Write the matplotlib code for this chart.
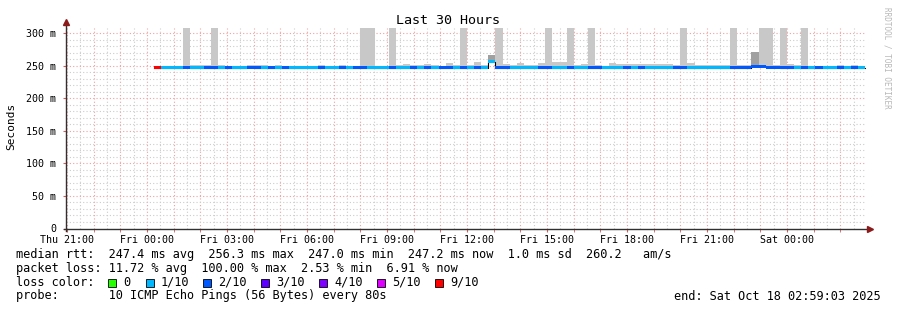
import matplotlib
matplotlib.use('Agg')
import matplotlib.pyplot as plt
import numpy as np
from matplotlib.patches import Rectangle
from matplotlib.lines import Line2D

# ---------------- data ----------------
title = 'Last 30 Hours'
ylabel = 'Seconds'
first_bin_hour = 3 + 16 / 60.0      # hours after Thu 21:00 (Fri 00:16)
bin_minutes = 16

loss_code = [9, 1, 1, 1, 2, 1, 1, 2, 2, 1,
             2, 1, 1, 2, 2, 1, 2, 1, 2, 1,
             1, 1, 1, 2, 1, 1, 2, 1, 2, 2,
             1, 1, 1, 2, 1, 1, 2, 1, 2, 1,
             2, 2, 1, 2, 1, 2, 1, 1, 2, 2,
             1, 1, 1, 1, 2, 2, 1, 1, 2, 1,
             1, 2, 2, 1, 1, 1, 2, 1, 2, 1,
             1, 1, 1, 2, 2, 1, 1, 1, 1, 1,
             1, 2, 2, 2, 2, 2, 2, 2, 2, 2,
             1, 2, 1, 2, 1, 1, 2, 1, 2, 1]

median_ms = [247.0, 247.3, 247.3, 247.3, 247.4, 247.3, 247.3, 247.2, 247.2, 247.3,
             247.3, 247.3, 247.3, 247.4, 246.8, 247.3, 247.3, 247.3, 247.3, 247.3,
             247.3, 247.3, 247.3, 247.3, 247.3, 247.3, 247.3, 247.3, 247.3, 247.3,
             247.3, 247.3, 247.3, 247.3, 247.3, 247.3, 247.3, 247.3, 247.3, 247.3,
             247.3, 247.3, 247.3, 247.3, 247.3, 247.3, 247.3, 256.3, 247.3, 247.3,
             247.3, 247.3, 247.3, 247.3, 247.3, 247.3, 247.3, 247.3, 247.3, 247.3,
             247.3, 247.3, 247.3, 247.3, 247.3, 247.3, 247.3, 247.3, 247.3, 247.3,
             247.3, 247.3, 247.3, 247.3, 247.3, 247.3, 247.3, 247.3, 247.3, 247.3,
             247.3, 247.0, 247.0, 247.0, 249.0, 249.0, 247.4, 247.4, 247.3, 247.3,
             247.3, 247.3, 247.3, 247.3, 247.3, 247.3, 247.3, 247.3, 247.3, 247.2]

smoke_hi_ms = [247.5, 249.5, 249.8, 249.5, 400, 251, 251, 251, 400, 251,
               250, 250, 249.8, 251, 250.5, 251, 250, 251, 249.5, 250,
               249.8, 250, 250, 250.5, 250, 250, 251, 250, 250, 400,
               400, 250, 250, 400, 251, 253, 251, 250.5, 253, 251,
               250, 255, 251, 400, 250.5, 256, 251, 267, 400, 253,
               251, 255, 251, 250.5, 255, 400, 256, 256, 400, 251,
               253, 400, 250.5, 250, 255, 253, 252, 253, 253, 253,
               253, 252, 253, 250.5, 400, 255, 251, 251, 251, 251,
               251, 400, 251, 251, 271, 400, 400, 251, 400, 253,
               250.5, 400, 250, 250, 250, 250, 250.5, 250, 250.5, 250]

smoke_dark_ms = [0] * 100
smoke_dark_ms[47] = 266.5
smoke_dark_ms[84] = 271

loss_levels = [0, 1, 2, 3, 4, 5, 9]
loss_labels = ['0', '1/10', '2/10', '3/10', '4/10', '5/10', '9/10']
loss_colors = ['#26ff00', '#00b8ff', '#0059ff', '#5e00ff', '#7e00ff', '#dd00ff', '#ff0000']

xtick_hours = [0, 3, 6, 9, 12, 15, 18, 21, 24, 27]
xtick_labels = ['Thu 21:00', 'Fri 00:00', 'Fri 03:00', 'Fri 06:00', 'Fri 09:00',
                'Fri 12:00', 'Fri 15:00', 'Fri 18:00', 'Fri 21:00', 'Sat 00:00']
ytick_vals = [0, 50, 100, 150, 200, 250, 300]
ytick_labels = ['0', '50 m', '100 m', '150 m', '200 m', '250 m', '300 m']

legend_rtt = 'median rtt:  247.4 ms avg  256.3 ms max  247.0 ms min  247.2 ms now  1.0 ms sd  260.2   am/s'
legend_loss = 'packet loss: 11.72 % avg  100.00 % max  2.53 % min  6.91 % now'
legend_probe = 'probe:       10 ICMP Echo Pings (56 Bytes) every 80s'
legend_end = 'end: Sat Oct 18 02:59:03 2025'

# ---------------- figure ----------------
W, H = 897, 310
MONO = 'DejaVu Sans Mono'
LFS = 8.52
fig = plt.figure(figsize=(W / 100, H / 100), dpi=100)
fig.patch.set_facecolor('white')

def fx(px):
    return px / W

def fy(py):
    return 1 - py / H

AX_L, AX_R, AX_T, AX_B = 66, 866, 28, 228.5
ax = fig.add_axes([fx(AX_L), fy(AX_B), (AX_R - AX_L) / W, (AX_B - AX_T) / H])
ax.set_facecolor('white')
x0 = -0.0375
x1 = x0 + 30
ymax = 308
ax.set_xlim(x0, x1)
ax.set_ylim(0, ymax)

# grid
for h in np.arange(0, 30.01, 0.5):
    if abs(h - round(h)) < 1e-6:
        ax.axvline(h, color='#f0a0a0', lw=0.8, ls=(0, (1, 2)), zorder=0)
    else:
        ax.axvline(h, color='#cccccc', lw=0.8, ls=(0, (1, 2)), zorder=0)
for v in range(10, 310, 10):
    if v % 50 == 0:
        ax.axhline(v, color='#f0a0a0', lw=0.8, ls=(0, (1, 2)), zorder=0)
    else:
        ax.axhline(v, color='#cccccc', lw=0.8, ls=(0, (1, 2)), zorder=0)

n = len(loss_code)
binw = bin_minutes / 60.0
xs = first_bin_hour + np.arange(n) * binw
med = np.array(median_ms)
hi = np.array(smoke_hi_ms)
dark = np.array(smoke_dark_ms)

ax.bar(xs, np.maximum(hi - med, 0), bottom=med, width=binw, align='edge',
       color='#c8c8c8', lw=0, zorder=2)
dmask = dark > 0
ax.bar(xs[dmask], dark[dmask] - med[dmask], bottom=med[dmask], width=binw, align='edge',
       color='#a0a0a0', lw=0, zorder=2.5)

edges = np.append(xs, xs[-1] + binw)
ax.step(edges, np.append(med, med[-1]), where='post', color='black', lw=0.8, zorder=3)

cmap = dict(zip(loss_levels, loss_colors))
band = 3 / ((AX_B - AX_T) / ymax)   # 3 px thick line
ax.bar(xs, band, bottom=med - band / 2, width=binw, align='edge',
       color=[cmap[c] for c in loss_code], lw=0, zorder=4)

# axes styling
for s in ['top', 'right', 'left', 'bottom']:
    ax.spines[s].set_visible(False)
ax.set_xticks(xtick_hours)
ax.set_xticklabels(xtick_labels, family=MONO, fontsize=7.2)
ax.set_xticks(np.arange(0, 30, 1), minor=True)
ax.set_yticks(ytick_vals)
ax.set_yticklabels(ytick_labels, family=MONO, fontsize=7.2)
ax.tick_params(axis='x', which='both', length=2, color='#d06060', pad=2.5)
ax.tick_params(axis='y', which='both', length=2, color='#d06060', pad=5)

# axis lines with arrows
fig.add_artist(Line2D([fx(AX_L), fx(AX_L)], [fy(AX_B + 2), fy(22)], color='#303030', lw=1))
fig.add_artist(Line2D([fx(AX_L - 2), fx(869)], [fy(AX_B), fy(AX_B)], color='#303030', lw=1))
fig.add_artist(Line2D([fx(AX_L)], [fy(22)], marker='^', color='#8b1a1a', markersize=4, lw=0))
fig.add_artist(Line2D([fx(870)], [fy(AX_B)], marker='>', color='#8b1a1a', markersize=4, lw=0))

# texts
fig.text(fx(448), fy(20), title, ha='center', va='center', family=MONO, fontsize=9.6)
fig.text(fx(11), fy(126), ylabel, ha='center', va='center', rotation=90, family=MONO, fontsize=8)
fig.text(fx(887), fy(58), 'RRDTOOL / TOBI OETIKER', ha='center', va='center', rotation=270,
         family=MONO, fontsize=5.5, color='#b8b8b8')

LX = 16
fig.text(fx(LX), fy(254.3), legend_rtt, ha='left', va='center', family=MONO, fontsize=LFS)
fig.text(fx(LX), fy(268.3), legend_loss, ha='left', va='center', family=MONO, fontsize=LFS)
fig.text(fx(LX), fy(282.3), 'loss color:', ha='left', va='center', family=MONO, fontsize=LFS)
box_x = [108, 146, 203, 261, 319, 377, 435]
for bx, col, lab in zip(box_x, loss_colors, loss_labels):
    fig.add_artist(Rectangle((fx(bx), fy(286.5)), 8 / W, 8 / H, facecolor=col,
                             edgecolor='black', lw=0.6))
    fig.text(fx(bx + 15), fy(282.3), lab, ha='left', va='center', family=MONO, fontsize=LFS)
fig.text(fx(LX), fy(296), legend_probe, ha='left', va='center', family=MONO, fontsize=LFS)
fig.text(fx(881), fy(296), legend_end, ha='right', va='center', family=MONO, fontsize=LFS)

fig.savefig('out.png', dpi=100, facecolor='white')
